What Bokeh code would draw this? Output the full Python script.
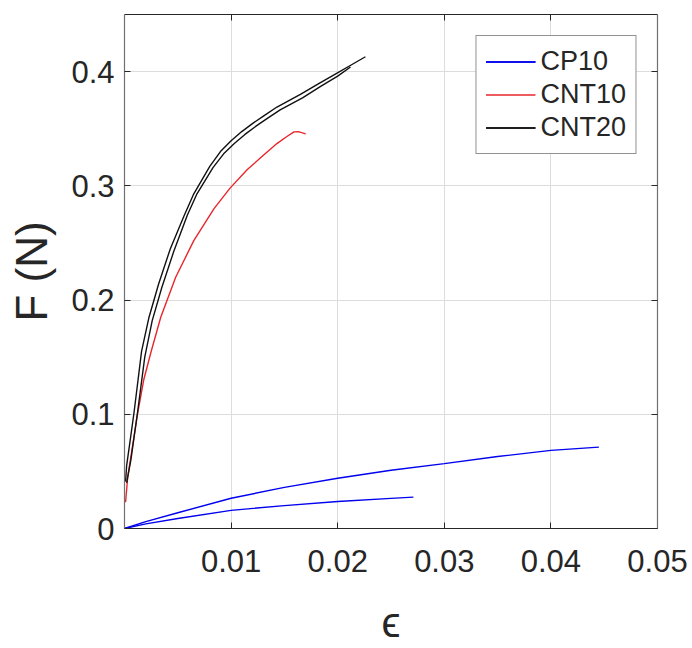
from bokeh.plotting import figure
from bokeh.models import LinearAxis, FixedTicker, Legend, LegendItem, Range1d
from bokeh.embed import file_html
from bokeh.resources import INLINE

# ---- data ----
cp10_a_x = [0, 0.002, 0.005, 0.010, 0.015, 0.020, 0.025, 0.030, 0.035, 0.040, 0.0445]
cp10_a_y = [0, 0.0060, 0.0138, 0.0265, 0.0360, 0.0440, 0.0510, 0.0568, 0.0630, 0.0684, 0.0712]
cp10_b_x = [0, 0.002, 0.005, 0.010, 0.015, 0.020, 0.025, 0.0271]
cp10_b_y = [0, 0.0040, 0.0087, 0.0159, 0.0200, 0.0236, 0.0264, 0.0275]

cnt10_x = [0.0001, 0.0003, 0.0006, 0.0012, 0.0018, 0.0025, 0.0034, 0.0048, 0.0065,
           0.0084, 0.0099, 0.0115, 0.0130, 0.0143, 0.0152, 0.0159, 0.0163, 0.0170]
cnt10_y = [0.023, 0.045, 0.063, 0.099, 0.130, 0.155, 0.185, 0.220, 0.252,
           0.280, 0.298, 0.314, 0.3265, 0.337, 0.343, 0.3472, 0.3475, 0.3455]

cnt20_a_x = [0.0001, 0.0002, 0.0005, 0.0009, 0.0016, 0.0023, 0.0032, 0.0043, 0.0056, 0.0065,
             0.0080, 0.0090, 0.0100, 0.0110, 0.0120, 0.0131, 0.0143, 0.0165, 0.0183, 0.0199, 0.0213, 0.0226]
cnt20_a_y = [0.041, 0.055, 0.075, 0.102, 0.155, 0.185, 0.214, 0.245, 0.274, 0.293,
             0.317, 0.330, 0.3395, 0.3475, 0.3545, 0.3615, 0.369, 0.380, 0.390, 0.3985, 0.406, 0.413]
cnt20_b_x = [0.0002, 0.0006, 0.0012, 0.0019, 0.0026, 0.0035, 0.0046, 0.0059, 0.0068,
             0.0083, 0.0093, 0.0103, 0.0113, 0.0123, 0.0134, 0.0146, 0.0167, 0.0184, 0.0200, 0.0212]
cnt20_b_y = [0.040, 0.060, 0.100, 0.150, 0.182, 0.211, 0.242, 0.2745, 0.293,
             0.316, 0.328, 0.337, 0.345, 0.352, 0.359, 0.3665, 0.377, 0.387, 0.396, 0.404]

x_ticks = [0.01, 0.02, 0.03, 0.04, 0.05]
y_ticks = [0, 0.1, 0.2, 0.3, 0.4]
legend_labels = ["CP10", "CNT10", "CNT20"]

FONT = "Liberation Sans"
TXT = "#262626"

p = figure(width=692, height=648, output_backend="svg", toolbar_location=None,
           x_range=Range1d(0, 0.05), y_range=Range1d(0, 0.45),
           min_border_left=124, min_border_right=35, min_border_top=14, min_border_bottom=114)
p.outline_line_color = None
p.background_fill_color = "white"
p.border_fill_color = "white"

def style_axis(ax):
    ax.axis_line_color = TXT
    ax.axis_line_width = 1.2
    ax.major_tick_line_color = TXT
    ax.major_tick_in = 6
    ax.major_tick_out = 0
    ax.minor_tick_line_color = TXT
    ax.minor_tick_in = 6
    ax.minor_tick_out = 0
    ax.major_label_text_font = FONT
    ax.major_label_text_color = TXT
    ax.major_label_text_font_size = "31px"

xa = p.xaxis[0]
ya = p.yaxis[0]
xa.ticker = FixedTicker(ticks=x_ticks, minor_ticks=[])
ya.ticker = FixedTicker(ticks=y_ticks, minor_ticks=[])
style_axis(xa)
style_axis(ya)
ya.axis_line_color = "#707070"
xa.major_label_standoff = 21
ya.major_label_standoff = 10
xa.major_label_overrides = {t: f"{t:g}" for t in x_ticks}
ya.major_label_overrides = {t: f"{t:g}" for t in y_ticks}

xa.axis_label = "\u03f5"
xa.axis_label_text_font = FONT
xa.axis_label_text_font_style = "normal"
xa.axis_label_text_font_size = "43px"
xa.axis_label_text_color = TXT
xa.axis_label_standoff = 23

ya.axis_label = "F (N)"
ya.axis_label_text_font = FONT
ya.axis_label_text_font_style = "normal"
ya.axis_label_text_font_size = "44px"
ya.axis_label_text_color = TXT
ya.axis_label_standoff = 12

# box on: top and right edges with inward ticks (no labels)
top = LinearAxis(ticker=FixedTicker(ticks=[], minor_ticks=x_ticks))
style_axis(top)
p.add_layout(top, "above")
right = LinearAxis(ticker=FixedTicker(ticks=[], minor_ticks=y_ticks))
style_axis(right)
right.axis_line_color = "#707070"
p.add_layout(right, "right")

p.xgrid.ticker = FixedTicker(ticks=x_ticks)
p.ygrid.ticker = FixedTicker(ticks=y_ticks)
p.grid.grid_line_color = "#dcdcdc"
p.grid.grid_line_width = 1

LW = 1.4
b1 = p.line(cp10_a_x, cp10_a_y, line_color="#0000ee", line_width=LW)
b2 = p.line(cp10_b_x, cp10_b_y, line_color="#0000ee", line_width=LW)
r1 = p.line(cnt10_x, cnt10_y, line_color="#e8262b", line_width=LW)
k1 = p.line(cnt20_a_x, cnt20_a_y, line_color="#111111", line_width=LW)
k2 = p.line(cnt20_b_x, cnt20_b_y, line_color="#111111", line_width=LW)

legend = Legend(items=[
    LegendItem(label=legend_labels[0], renderers=[b1, b2]),
    LegendItem(label=legend_labels[1], renderers=[r1]),
    LegendItem(label=legend_labels[2], renderers=[k1, k2]),
], location="top_right")
legend.margin = 21
legend.padding = 9
legend.spacing = 0
legend.label_height = 33
legend.glyph_height = 33
legend.glyph_width = 50
legend.label_standoff = 5
legend.label_text_font = FONT
legend.label_text_font_size = "27px"
legend.label_text_color = TXT
legend.border_line_color = TXT
legend.border_line_width = 1
legend.background_fill_color = "white"
legend.background_fill_alpha = 1
p.add_layout(legend)

open("out.html", "w").write(file_html(p, INLINE))
